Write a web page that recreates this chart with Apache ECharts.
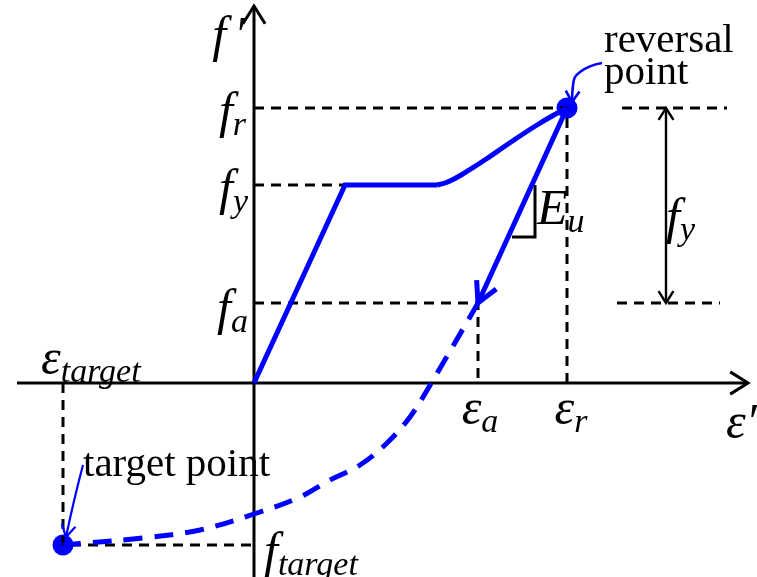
<!DOCTYPE html>
<html>
<head>
<meta charset="utf-8">
<script src="https://cdn.jsdelivr.net/npm/echarts@6/dist/echarts.min.js"></script>
<style>
  html, body { margin: 0; padding: 0; background: #fff; }
  #chart { width: 757px; height: 577px; }
</style>
</head>
<body>
<div id="chart"></div>
<script>
// Key states of the steel stress–strain path (strain ε, stress f′)
const epsY = 9.1, fY = 19.8;          // yield
const epsR = 31.3, fR = 27.5;         // reversal point
const epsA = 22.4, fA = 8.0;          // end of linear unloading
const epsTarget = -19.1, fTarget = -16.2; // target point

// Elastic branch and yield plateau
const envelopeStrain = [0, epsY, 18.3];
const envelopeStress = [0, fY, fY];
// Strain-hardening branch up to reversal
const hardeningStrain = [18.3, 19.1, 19.9, 20.8, 21.6, 23.3, 24.9, 26.6, 28.3, 29.9, epsR];
const hardeningStress = [fY, 20.0, 20.35, 20.85, 21.35, 22.45, 23.55, 24.7, 25.8, 26.75, fR];
// Linear unloading with modulus E_u
const unloadStrain = [epsR, epsA];
const unloadStress = [fR, fA];
// Curved reloading towards the target point
const reloadStrain = [epsA, 17.5, 15.6, 13.3, 10.6, 7.6, 4.6, 0.3, -5.4, -11.1, -16.7, epsTarget];
const reloadStress = [fA, -0.4, -3.4, -6.0, -8.2, -9.7, -11.4, -13.0, -14.7, -15.5, -16.0, fTarget];

// Plot window and axis extents
const xRange = [-25.4, 50.3];
const yRange = [-19.4, 38.3];
const xAxisSpan = [-23.7, 49.4];
const yAxisSpan = [-19.4, 37.7];

// Dimension for the unloading range on the right
const dimX = 41.2;
const dimUpperSpan = [36.8, 47.3];
const dimLowerSpan = [36.3, 46.6];

// E_u slope marker
const slopeX = [25.8, 28.1];
const slopeY = [14.6, 19.8];

// Call-out leader lines
const reversalLeader = [[34.8, 32.0], [32.6, 31.1], [31.9, 29.8], [31.8, 28.1]];
const targetLeader = [[-17.1, -8.2], [-18.0, -11.8], [-18.8, -15.4]];

const BLUE = '#0000ff';
const SERIF = '"Liberation Serif", "Times New Roman", serif';

const zip = (xs, ys) => xs.map((x, i) => [x, ys[i]]);

// Open chevron arrow head at `tip`, pointing away from `from`
function chevron(tip, from, len, ang) {
  const dx = tip[0] - from[0], dy = tip[1] - from[1];
  const n = Math.hypot(dx, dy);
  const ux = dx / n, uy = dy / n;
  const a = ang * Math.PI / 180;
  const rot = (s) => [ux * Math.cos(s) - uy * Math.sin(s), ux * Math.sin(s) + uy * Math.cos(s)];
  const r1 = rot(a), r2 = rot(-a);
  return [[tip[0] - len * r1[0], tip[1] - len * r1[1]], tip, [tip[0] - len * r2[0], tip[1] - len * r2[1]]];
}

function line(data, color, width, extra) {
  return Object.assign({
    type: 'line', data: data, symbol: 'none', silent: true, animation: false,
    lineStyle: { color: color, width: width, cap: 'butt', join: 'miter' }
  }, extra || {});
}
function dashed(data) {
  return line(data, '#000', 3, { lineStyle: { color: '#000', width: 3, type: [10, 7], cap: 'butt' } });
}

const rich = {
  m: { fontFamily: SERIF, fontStyle: 'italic', fontSize: 50, color: '#000' },
  p: { fontFamily: SERIF, fontStyle: 'italic', fontSize: 50, color: '#000', padding: [0, 0, 0, 8] },
  s: { fontFamily: SERIF, fontStyle: 'italic', fontSize: 34, color: '#000', padding: [24, 0, 0, 0] },
  t: { fontFamily: SERIF, fontSize: 41, color: '#000', lineHeight: 32 }
};

// Text labels anchored to the key states
const labelItems = [
  { value: [0, yAxisSpan[1]], text: '{m|f}{p|′}', align: 'right', offset: [-9, 32] },
  { value: [0, fR], text: '{m|f}{s|r}', align: 'right', offset: [-8, 6] },
  { value: [0, fY], text: '{m|f}{s|y}', align: 'right', offset: [-6, 6] },
  { value: [0, fA], text: '{m|f}{s|a}', align: 'right', offset: [-6, 8] },
  { value: [0, fTarget], text: '{m|f}{s|target}', align: 'left', offset: [10, 9] },
  { value: [epsTarget, 0], text: '{m|ε}{s|target}', align: 'left', offset: [-22, -22] },
  { value: [epsA, 0], text: '{m|ε}{s|a}', align: 'center', offset: [2, 28] },
  { value: [epsR, 0], text: '{m|ε}{s|r}', align: 'center', offset: [4, 28] },
  { value: [xAxisSpan[1], 0], text: '{m|ε′}', align: 'left', offset: [-22, 42] },
  { value: [slopeX[1], slopeY[1]], text: '{m|E}{s|u}', align: 'left', offset: [2, 26] },
  { value: [dimX, (fR + fA) / 2], text: '{m|f}{s|y}', align: 'left', offset: [0, 14] },
  { value: reversalLeader[0], text: '{t|reversal}\n{t|point}', align: 'left', offset: [2, -6] },
  { value: targetLeader[0], text: '{t|target point}', align: 'left', offset: [0, 0] }
];

const xAxisLine = [[xAxisSpan[0], 0], [xAxisSpan[1], 0]];
const yAxisLine = [[0, yAxisSpan[0]], [0, yAxisSpan[1]]];
const reversal = [epsR, fR], pointA = [epsA, fA], target = [epsTarget, fTarget];

const series = [
  // reference projections
  dashed([[0, fR], [epsR, fR], [epsR, 0]]),
  dashed([[0, fY], [epsY, fY]]),
  dashed([[0, fA], [epsA, fA], [epsA, 0]]),
  dashed([[epsTarget, 0], [epsTarget, fTarget], [0, fTarget]]),
  dashed([[dimUpperSpan[0], fR], [dimUpperSpan[1], fR]]),
  dashed([[dimLowerSpan[0], fA], [dimLowerSpan[1], fA]]),
  // coordinate axes with open arrow heads
  line(xAxisLine, '#000', 3),
  line(yAxisLine, '#000', 3),
  line(chevron(xAxisLine[1], xAxisLine[0], 2.1, 32), '#000', 3),
  line(chevron(yAxisLine[1], yAxisLine[0], 2.1, 32), '#000', 3),
  // double-headed dimension arrow
  line([[dimX, fR], [dimX, fA]], '#000', 2.4),
  line(chevron([dimX, fR], [dimX, fA], 1.4, 32), '#000', 2.4),
  line(chevron([dimX, fA], [dimX, fR], 1.4, 32), '#000', 2.4),
  // E_u slope triangle
  line([[slopeX[1], slopeY[1]], [slopeX[1], slopeY[0]], [slopeX[0], slopeY[0]]], '#000', 3),
  // loading path
  line(zip(envelopeStrain, envelopeStress), BLUE, 5),
  line(zip(hardeningStrain, hardeningStress), BLUE, 5, { smooth: 0.3 }),
  line(zip(unloadStrain, unloadStress), BLUE, 5),
  line(chevron(pointA, reversal, 2.3, 28), BLUE, 5),
  line(zip(reloadStrain, reloadStress), BLUE, 5, {
    smooth: 0.35,
    lineStyle: { color: BLUE, width: 5, type: [19, 12], cap: 'butt' }
  }),
  // call-out leaders
  line(reversalLeader, BLUE, 2.6, { smooth: 0.5 }),
  line(chevron(reversalLeader[3], reversalLeader[2], 1.3, 32), BLUE, 2.6),
  line(targetLeader, BLUE, 2.2, { smooth: 0.5 }),
  line(chevron(targetLeader[2], targetLeader[1], 1.4, 30), BLUE, 2.2),
  // reversal and target points
  {
    type: 'scatter', silent: true, animation: false, symbol: 'circle', symbolSize: 21,
    itemStyle: { color: BLUE, opacity: 1 }, data: [reversal, target]
  },
  // labels
  {
    type: 'scatter', silent: true, animation: false, symbolSize: 0,
    itemStyle: { opacity: 1 },
    data: labelItems.map(l => ({
      value: l.value,
      label: {
        show: true, position: 'inside', formatter: l.text, align: l.align,
        verticalAlign: 'middle', offset: l.offset, rich: rich,
        color: '#000', opacity: 1, textBorderWidth: 0
      }
    }))
  }
];

const chart = echarts.init(document.getElementById('chart'), null, { renderer: 'canvas' });
chart.setOption({
  backgroundColor: '#fff',
  animation: false,
  grid: { left: 0, right: 0, top: 0, bottom: 0 },
  xAxis: { type: 'value', min: xRange[0], max: xRange[1], show: false },
  yAxis: { type: 'value', min: yRange[0], max: yRange[1], show: false },
  series: series
});
</script>
</body>
</html>
